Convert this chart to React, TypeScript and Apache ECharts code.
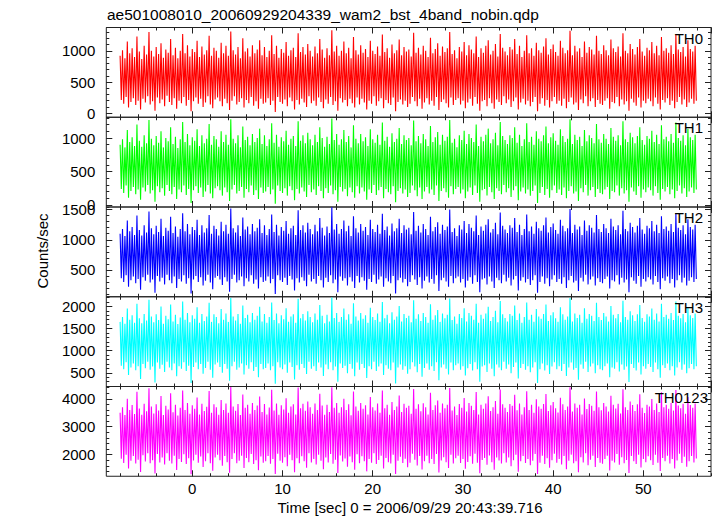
import React, { useEffect, useRef } from "react";
import * as echarts from "echarts";

// ---------- data ----------
// Each band is sampled as alternating peak / trough readings:
// peaks at TIME_START + k*TIME_STEP, troughs half a step later.
const TIME_START = -8.0; // seconds
const TIME_STEP = 0.2667; // seconds
const X_MIN = -9.53;
const X_MAX = 57.5;

const titleText = "ae501008010_20060929204339_wam2_bst_4band_nobin.qdp";
const xTitle = "Time [sec] 0 = 2006/09/29 20:43:39.716";
const yTitle = "Counts/sec";
const bandNames = ["TH0", "TH1", "TH2", "TH3", "TH0123"];
const bandColors = ["#ff0000", "#00ff00", "#0000ff", "#00ffff", "#ff00ff"];
const yMins = [-65, -30, 55, 190, 1225];
const yMaxs = [1374, 1310, 1543, 2218, 4440];
const yMajorStep = [500, 500, 500, 500, 1000];
const yMinorStep = [100, 100, 100, 100, 200];
const xMajorStep = 10;
const xMinorStep = 2;

const th0Peaks = [
  920,1010,880,1150,960,1040,900,1230,990,870,1080,940,1300,1000,910,1060,950,1120,890,1020,
  970,1190,930,1050,880,1000,1270,960,1090,910,1030,980,1160,900,1070,940,1010,1240,920,1050,
  1000,890,1130,960,1080,920,1310,1010,940,1060,880,1200,990,1040,910,1090,960,1020,1170,930,
  1060,900,1000,1250,950,1080,890,1030,970,1140,920,1010,1050,900,1280,980,1060,940,1110,1000,
  910,1070,960,1190,1020,890,1040,930,1330,990,1080,920,1000,1150,960,1050,880,1220,1010,940,
  1090,970,1030,900,1160,1000,950,1070,920,1260,980,1040,890,1100,960,1010,1180,930,1060,990,
  1020,910,1290,970,1050,940,1080,1000,900,1210,960,1030,1120,920,1070,980,1040,1300,950,1010,
  880,1060,990,1140,930,1090,1020,960,1230,900,1040,970,1080,1170,940,1000,1110,910,1270,1050,
  990,930,1060,1020,1190,950,1080,900,1000,1250,960,1040,920,1130,1010,970,1070,1200,940,1030,
  1100,980,920,1160,1050,960,1010,1320,930,1080,990,1040,900,1150,970,1060,1020,940,1240,1000,
  950,1090,1010,930,1180,1040,980,1070,910,1280,1000,960,1110,1030,940,1060,1190,990,920,1050,
  1010,1140,960,1080,930,1220,1000,1040,970,1090,950,1260,1020,980,1060,910,1170,1030,990,1080,
];
const th0Troughs = [
  210,150,260,90,180,240,130,200,60,230,170,270,140,190,40,250,160,220,110,280,
  180,130,240,70,200,160,260,120,210,30,190,250,150,230,100,170,270,140,80,220,
  250,190,110,230,160,50,200,270,140,180,240,90,210,160,260,120,190,70,230,150,
  170,240,130,200,20,260,180,150,220,110,250,190,60,210,140,230,170,100,270,160,
  200,120,250,180,80,220,150,260,130,190,40,240,170,210,110,230,160,90,250,140,
  230,170,60,200,150,270,120,190,240,80,210,160,130,250,30,180,220,140,200,100,
  150,260,190,110,230,70,170,240,140,200,120,260,50,180,220,160,90,250,130,210,
  240,140,200,80,170,230,120,260,150,40,190,210,110,240,160,70,220,180,130,270,
  160,220,100,190,250,60,170,230,140,200,110,180,260,30,150,240,120,210,90,190,
  260,150,200,120,230,80,180,250,140,170,50,220,160,270,110,190,240,100,210,150,
  130,200,240,70,180,160,260,110,220,140,190,40,230,170,120,250,90,200,160,230,
  190,110,250,150,60,210,170,240,130,200,80,180,260,140,220,100,170,230,150,200,
];
const th1Peaks = [
  900,980,860,1120,940,1010,880,1200,960,870,1040,920,1270,990,890,1030,930,1100,860,1000,
  950,1160,910,1020,850,980,1240,940,1060,890,1010,960,1130,880,1040,920,990,1210,900,1030,
  980,870,1100,940,1050,900,1280,990,920,1040,860,1170,970,1020,890,1060,940,1000,1140,910,
  1040,880,980,1220,930,1050,870,1010,950,1110,900,990,1030,880,1250,960,1040,920,1080,980,
  890,1050,940,1160,1000,870,1020,910,1290,970,1060,900,980,1120,940,1030,860,1190,990,920,
  1060,950,1010,880,1130,980,930,1050,900,1230,960,1020,870,1070,940,990,1150,910,1040,970,
  1000,890,1260,950,1030,920,1060,980,880,1180,940,1010,1090,900,1050,960,1020,1270,930,990,
  860,1040,970,1110,910,1060,1000,940,1200,880,1020,950,1050,1140,920,980,1080,890,1240,1030,
  970,910,1040,1000,1160,930,1050,880,980,1220,940,1020,900,1100,990,950,1040,1170,920,1010,
  1070,960,900,1130,1030,940,990,1280,910,1050,970,1020,880,1120,950,1040,1000,920,1210,980,
  930,1060,990,910,1150,1020,960,1040,890,1250,980,940,1080,1010,920,1030,1160,970,900,1030,
  990,1110,940,1050,910,1190,980,1020,950,1060,930,1230,1000,960,1040,890,1140,1010,970,1050,
];
const th1Troughs = [
  240,180,290,110,210,270,160,230,80,260,200,300,170,220,50,280,190,250,140,300,
  210,160,270,90,230,190,290,150,240,30,220,280,180,260,120,200,300,170,100,250,
  280,220,140,260,190,60,230,300,170,210,270,110,240,190,290,150,220,90,260,180,
  200,270,160,230,20,290,210,180,250,140,280,220,70,240,170,260,200,120,300,190,
  230,150,280,210,100,250,180,290,160,220,50,270,200,240,130,260,190,110,280,170,
  260,200,80,230,180,300,150,220,270,100,240,190,160,280,40,210,250,170,230,120,
  180,290,220,130,260,90,200,270,170,230,150,290,60,210,250,190,110,280,160,240,
  270,170,230,100,200,260,150,290,180,50,220,240,140,270,190,90,250,210,160,300,
  190,250,120,220,280,70,200,260,170,230,140,210,290,30,180,270,150,240,110,220,
  290,180,230,150,260,100,210,280,170,200,60,250,190,300,140,220,270,120,240,180,
  160,230,270,90,210,190,290,140,250,170,220,50,260,200,150,280,110,230,190,260,
  220,140,280,180,80,240,200,270,160,230,100,210,290,170,250,120,200,260,180,230,
];
const th2Peaks = [
  1100,1180,1060,1320,1140,1210,1080,1400,1160,1070,1240,1120,1470,1190,1090,1230,1130,1350,1060,1200,
  1150,1380,1110,1220,1050,1180,1440,1140,1260,1090,1210,1160,1330,1080,1240,1120,1190,1410,1100,1230,
  1180,1070,1300,1140,1250,1100,1520,1190,1120,1240,1060,1370,1170,1220,1090,1260,1140,1200,1340,1110,
  1240,1080,1180,1420,1130,1250,1070,1210,1150,1310,1100,1190,1230,1080,1490,1160,1240,1120,1280,1180,
  1090,1250,1140,1360,1200,1070,1220,1110,1540,1170,1260,1100,1180,1320,1140,1230,1060,1390,1190,1120,
  1260,1150,1210,1080,1330,1180,1130,1250,1100,1430,1160,1220,1070,1270,1140,1190,1350,1110,1240,1170,
  1200,1090,1460,1150,1230,1120,1260,1180,1080,1380,1140,1210,1290,1100,1250,1160,1220,1500,1130,1190,
  1060,1240,1170,1310,1110,1260,1200,1140,1400,1080,1220,1150,1250,1340,1120,1180,1280,1090,1450,1230,
  1170,1110,1240,1200,1360,1130,1250,1080,1180,1420,1140,1220,1100,1300,1190,1150,1240,1370,1120,1210,
  1270,1160,1100,1330,1230,1140,1190,1510,1110,1250,1170,1220,1080,1320,1150,1240,1200,1120,1410,1180,
  1130,1260,1190,1110,1350,1220,1160,1240,1090,1480,1180,1140,1280,1210,1120,1230,1360,1170,1100,1230,
  1190,1310,1140,1250,1110,1390,1180,1220,1150,1260,1130,1440,1200,1160,1240,1090,1340,1210,1170,1250,
];
const th2Troughs = [
  360,300,410,220,330,390,280,350,170,380,320,420,290,340,120,400,310,370,260,420,
  330,280,390,200,350,310,410,270,360,110,340,400,300,380,240,320,420,290,180,370,
  400,340,250,380,310,140,350,420,290,330,390,230,360,310,410,270,340,190,380,300,
  320,390,280,350,100,410,330,300,370,250,400,340,160,360,290,380,320,230,420,310,
  350,270,400,330,210,370,300,410,280,340,130,390,320,360,240,380,310,200,400,290,
  380,320,170,350,300,420,270,340,390,220,360,310,280,400,110,330,370,290,350,230,
  300,410,340,250,380,190,320,390,290,350,270,410,150,330,370,310,220,400,280,360,
  390,290,350,210,320,380,270,410,300,130,340,360,260,390,310,200,370,330,280,420,
  310,370,240,340,400,160,320,380,290,350,250,330,410,120,300,390,270,360,230,340,
  410,300,350,270,380,200,330,400,290,320,150,370,310,420,260,340,390,240,360,300,
  280,350,390,190,330,310,410,260,370,290,340,130,380,320,270,400,220,350,310,380,
  340,260,400,300,180,360,320,390,280,350,210,330,410,290,370,240,320,380,300,350,
];
const th3Peaks = [
  1650,1760,1610,1950,1700,1800,1630,2060,1730,1620,1830,1680,2150,1770,1640,1820,1690,2000,1610,1790,
  1710,2040,1660,1810,1600,1750,2110,1700,1850,1640,1800,1720,1980,1630,1830,1670,1770,2080,1650,1820,
  1760,1620,1940,1700,1840,1650,2190,1770,1680,1830,1610,2020,1740,1810,1640,1850,1700,1790,1990,1660,
  1830,1630,1760,2090,1690,1840,1620,1800,1710,1960,1650,1770,1820,1630,2170,1730,1830,1680,1890,1760,
  1640,1840,1700,2030,1790,1620,1810,1660,2200,1740,1850,1650,1760,1950,1700,1820,1610,2070,1770,1680,
  1850,1720,1800,1630,1970,1760,1690,1840,1650,2100,1730,1810,1620,1870,1700,1770,2010,1660,1830,1740,
  1790,1640,2140,1720,1820,1670,1850,1760,1630,2050,1700,1800,1920,1650,1840,1730,1810,2180,1690,1770,
  1610,1830,1740,1960,1660,1850,1790,1700,2060,1630,1810,1720,1840,1990,1670,1760,1900,1640,2120,1820,
  1740,1660,1830,1790,2020,1690,1840,1630,1760,2090,1700,1810,1650,1940,1770,1720,1830,2040,1670,1800,
  1870,1730,1650,1980,1820,1700,1770,2190,1660,1840,1740,1810,1630,1960,1720,1830,1790,1670,2080,1760,
  1690,1850,1770,1660,2010,1810,1730,1830,1640,2130,1760,1700,1890,1800,1670,1820,2030,1740,1650,1820,
  1770,1950,1700,1840,1660,2060,1760,1810,1720,1850,1690,2110,1790,1730,1830,1640,1980,1800,1740,1840,
];
const th3Troughs = [
  660,580,740,450,620,710,560,650,360,700,600,750,570,640,280,730,590,680,520,750,
  620,560,710,420,650,590,740,540,660,270,630,730,580,700,480,610,750,570,390,690,
  730,630,500,700,590,320,650,750,570,620,710,460,670,590,740,540,630,400,700,580,
  610,710,560,650,250,740,620,580,690,500,730,630,350,670,570,700,610,470,750,590,
  650,540,730,620,430,690,580,740,560,640,300,710,610,660,490,700,590,420,730,570,
  700,610,380,650,580,750,540,640,710,450,670,590,560,730,260,620,690,570,650,480,
  580,740,640,510,700,410,610,710,570,650,540,740,330,620,690,590,460,730,560,670,
  710,570,650,440,600,700,550,740,580,300,640,670,520,710,590,420,690,620,560,750,
  590,690,490,630,730,370,610,700,570,650,510,620,740,270,580,710,550,670,470,640,
  740,580,650,540,700,430,620,730,570,610,340,690,590,750,520,640,710,490,670,580,
  560,650,710,400,620,590,740,530,690,570,640,290,700,610,550,730,460,650,590,700,
  630,520,730,580,390,670,610,710,560,650,440,620,740,570,690,490,600,700,580,650,
];
const th0123Peaks = [
  3500,3700,3420,4000,3600,3780,3450,4250,3650,3430,3820,3550,4380,3720,3470,3800,3580,4100,3420,3750,
  3620,4200,3520,3790,3400,3680,4300,3600,3850,3460,3770,3640,4050,3440,3820,3560,3710,4280,3500,3800,
  3700,3430,3960,3600,3830,3500,4420,3720,3570,3810,3420,4150,3680,3790,3460,3850,3600,3760,4080,3530,
  3810,3440,3690,4320,3580,3830,3430,3770,3620,4020,3500,3720,3800,3440,4400,3660,3820,3570,3900,3700,
  3460,3830,3600,4180,3760,3430,3790,3530,4410,3680,3850,3500,3700,4000,3600,3800,3410,4260,3720,3570,
  3850,3640,3770,3440,4060,3700,3580,3830,3500,4300,3660,3790,3430,3880,3600,3720,4120,3530,3820,3680,
  3750,3460,4350,3640,3800,3550,3840,3700,3440,4220,3600,3770,3940,3500,3830,3660,3790,4390,3580,3720,
  3420,3810,3680,4030,3540,3850,3750,3600,4240,3440,3790,3640,3830,4090,3560,3700,3920,3460,4330,3800,
  3680,3530,3810,3750,4140,3590,3830,3440,3700,4270,3600,3790,3500,3980,3720,3640,3810,4170,3560,3770,
  3880,3660,3510,4040,3800,3600,3720,4410,3540,3830,3680,3790,3440,4010,3630,3810,3750,3570,4260,3700,
  3590,3850,3720,3540,4110,3790,3650,3820,3470,4340,3700,3600,3900,3780,3560,3800,4160,3680,3490,3790,
  3720,3990,3600,3830,3530,4230,3700,3790,3640,3850,3580,4310,3760,3660,3820,3460,4060,3780,3680,3830,
];
const th0123Troughs = [
  1850,1700,2000,1500,1780,1950,1680,1820,1380,1980,1750,2050,1690,1800,1320,2020,1720,1900,1650,2050,
  1780,1680,1960,1450,1840,1740,2010,1660,1870,1300,1790,2000,1710,1930,1560,1760,2050,1690,1420,1900,
  2000,1800,1600,1950,1730,1350,1840,2050,1690,1780,1960,1520,1880,1730,2020,1660,1800,1440,1930,1710,
  1760,1950,1670,1840,1310,2030,1780,1710,1910,1580,2000,1800,1370,1870,1690,1940,1760,1530,2050,1720,
  1840,1650,2000,1780,1480,1900,1720,2020,1670,1820,1340,1970,1750,1860,1570,1930,1730,1460,2010,1690,
  1940,1760,1400,1840,1710,2050,1660,1810,1960,1500,1880,1730,1680,2000,1310,1780,1920,1700,1850,1550,
  1710,2030,1820,1610,1950,1470,1760,1960,1690,1840,1660,2020,1360,1790,1910,1730,1520,2000,1680,1870,
  1960,1700,1840,1490,1740,1940,1670,2030,1710,1330,1810,1880,1640,1970,1730,1460,1900,1790,1680,2050,
  1720,1900,1580,1800,2000,1390,1760,1950,1700,1840,1620,1780,2020,1310,1710,1960,1660,1870,1530,1800,
  2030,1710,1840,1650,1950,1480,1780,2000,1690,1760,1370,1910,1720,2050,1620,1820,1960,1560,1880,1710,
  1670,1840,1960,1430,1780,1720,2020,1640,1910,1690,1810,1340,1950,1760,1660,2000,1540,1840,1730,1940,
  1800,1630,2000,1710,1410,1880,1760,1960,1680,1840,1500,1790,2030,1700,1920,1570,1760,1950,1720,1860,
];
const bandPeaks = [th0Peaks, th1Peaks, th2Peaks, th3Peaks, th0123Peaks];
const bandTroughs = [th0Troughs, th1Troughs, th2Troughs, th3Troughs, th0123Troughs];

// ---------- layout ----------
const W = 717;
const H = 516;
const FONT = "'Liberation Sans', Arial, Helvetica, sans-serif";
const AXIS_COLOR = "#222";
const PX_L = 106.3;
const PX_R = 711;
const GRID_TOP0 = 27.5;
const GRID_H = 89.75;

const xpx = (v: number) => PX_L + ((v - X_MIN) / (X_MAX - X_MIN)) * (PX_R - PX_L);
const plain = (v: number) => String(v);

function bandSeriesData(peaks: number[], troughs: number[]) {
  const out: number[][] = [];
  const n = Math.min(peaks.length, troughs.length);
  for (let k = 0; k < n; k++) {
    out.push([TIME_START + k * TIME_STEP, peaks[k]]);
    out.push([TIME_START + (k + 0.5) * TIME_STEP, troughs[k]]);
  }
  return out;
}

export default function App() {
  const ref = useRef<HTMLDivElement>(null);

  useEffect(() => {
    if (!ref.current) return;
    const chart = echarts.init(ref.current, null, { renderer: "svg" });

    const grids: any[] = [];
    const xAxes: any[] = [];
    const yAxes: any[] = [];
    const series: any[] = [];

    bandNames.forEach((name, i) => {
      const top = GRID_TOP0 + i * GRID_H;
      const bottom = top + GRID_H;
      const ypx = (v: number) => bottom - ((v - yMins[i]) / (yMaxs[i] - yMins[i])) * GRID_H;
      const isLast = i === bandNames.length - 1;

      // main data grid with frame
      const gMain = grids.length;
      grids.push({
        left: PX_L,
        right: W - PX_R,
        top,
        height: GRID_H,
        show: true,
        borderColor: AXIS_COLOR,
        borderWidth: 1,
        backgroundColor: "transparent",
      });
      const xMainIdx = xAxes.length;
      xAxes.push({ gridIndex: gMain, type: "value", min: X_MIN, max: X_MAX, show: false });
      const yMainIdx = yAxes.length;
      yAxes.push({ gridIndex: gMain, type: "value", min: yMins[i], max: yMaxs[i], show: false });

      series.push({
        name,
        type: "line",
        xAxisIndex: xMainIdx,
        yAxisIndex: yMainIdx,
        data: bandSeriesData(bandPeaks[i], bandTroughs[i]),
        showSymbol: false,
        symbol: "none",
        clip: true,
        silent: true,
        z: 1,
        lineStyle: { color: bandColors[i], width: 1.1 },
      });

      // tick grids: major (with labels) and minor
      [
        { xs: xMajorStep, ys: yMajorStep[i], len: 6, labels: true },
        { xs: xMinorStep, ys: yMinorStep[i], len: 3, labels: false },
      ].forEach((t) => {
        const x0 = Math.ceil(X_MIN / t.xs) * t.xs;
        const y0 = Math.ceil(yMins[i] / t.ys) * t.ys;
        const gLeft = xpx(x0);
        const gBottom = ypx(y0);
        const g = grids.length;
        grids.push({
          left: gLeft,
          right: W - PX_R,
          top,
          height: gBottom - top,
          show: false,
        });
        ["bottom", "top"].forEach((pos) => {
          xAxes.push({
            gridIndex: g,
            type: "value",
            min: x0,
            max: X_MAX,
            interval: t.xs,
            position: pos,
            offset: pos === "bottom" ? bottom - gBottom : 0,
            splitLine: { show: false },
            axisLine: { show: false, onZero: false },
            axisTick: { show: true, inside: true, length: t.len, lineStyle: { color: AXIS_COLOR } },
            axisLabel: {
              show: t.labels && isLast && pos === "bottom",
              showMaxLabel: false,
              formatter: plain,
              color: "#000",
              fontFamily: FONT,
              fontSize: 15,
              margin: 5,
            },
          });
        });
        ["left", "right"].forEach((pos) => {
          yAxes.push({
            gridIndex: g,
            type: "value",
            min: y0,
            max: yMaxs[i],
            interval: t.ys,
            position: pos,
            offset: pos === "left" ? gLeft - PX_L : 0,
            splitLine: { show: false },
            axisLine: { show: false, onZero: false },
            axisTick: { show: true, inside: true, length: t.len, lineStyle: { color: AXIS_COLOR } },
            axisLabel: {
              show: t.labels && pos === "left",
              showMaxLabel: false,
              formatter: plain,
              color: "#000",
              fontFamily: FONT,
              fontSize: 15,
              margin: 11,
            },
          });
        });
      });
    });

    const labelRight = [703, 703, 703, 703, 708];
    const graphic: any[] = [
      {
        type: "text",
        x: 107,
        y: 14,
        style: {
          text: titleText,
          font: `15.5px ${FONT}`,
          fill: "#000",
          align: "left",
          verticalAlign: "middle",
        },
      },
      {
        type: "text",
        x: 42,
        y: 251,
        rotation: Math.PI / 2,
        style: {
          text: yTitle,
          font: `15px ${FONT}`,
          fill: "#000",
          align: "center",
          verticalAlign: "middle",
        },
      },
      {
        type: "text",
        x: 410,
        y: 507,
        style: {
          text: xTitle,
          font: `15px ${FONT}`,
          fill: "#000",
          align: "center",
          verticalAlign: "middle",
        },
      },
      ...bandNames.map((name, i) => ({
        type: "text",
        x: labelRight[i],
        y: GRID_TOP0 + i * GRID_H + 3,
        z: 100,
        style: {
          text: name,
          font: `15px ${FONT}`,
          fill: "#000",
          align: "right",
          verticalAlign: "top",
        },
      })),
    ];

    chart.setOption({
      animation: false,
      backgroundColor: "#ffffff",
      grid: grids,
      xAxis: xAxes,
      yAxis: yAxes,
      series,
      graphic,
    });

    return () => chart.dispose();
  }, []);

  return (
    <div
      ref={ref}
      style={{ position: "absolute", left: 0, top: 0, width: W, height: H }}
    />
  );
}
